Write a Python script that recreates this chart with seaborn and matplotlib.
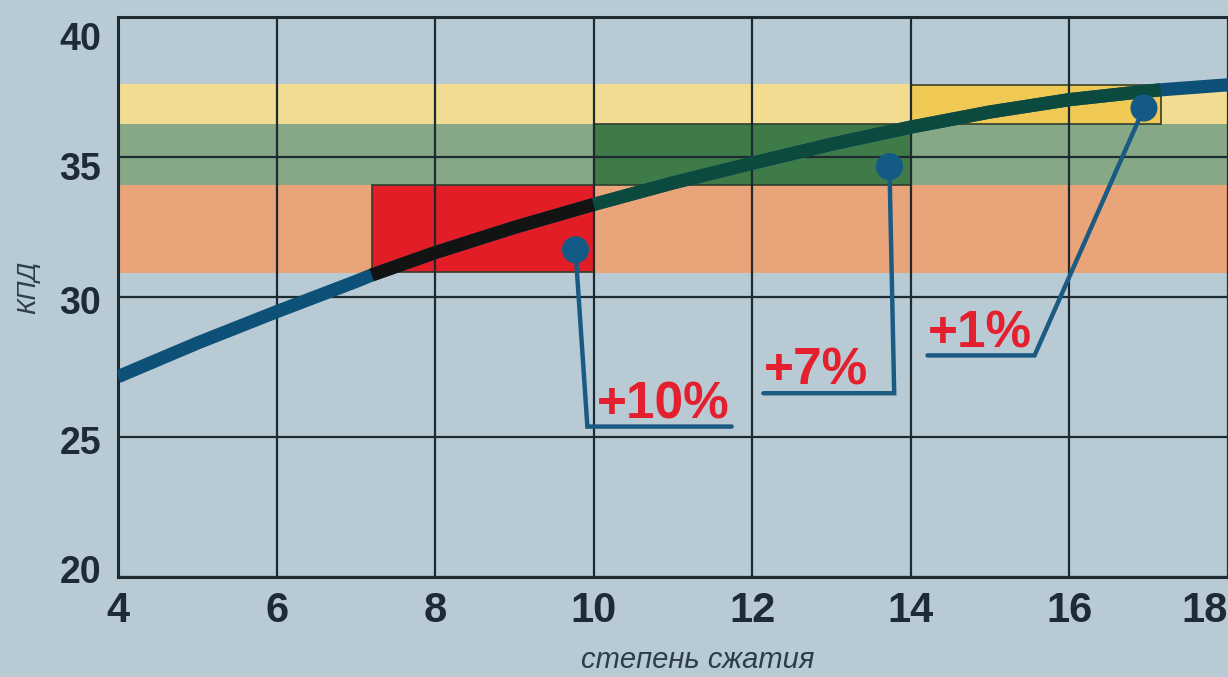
import numpy as np
import pandas as pd
import matplotlib
matplotlib.use('Agg')
import matplotlib.pyplot as plt
import matplotlib.transforms as mtransforms
from matplotlib.patches import Rectangle
import seaborn as sns

# Efficiency (КПД) vs compression ratio
ratio = [4, 5, 6, 7, 7.2, 8, 9, 10, 11, 12, 13, 14, 15, 16, 17, 17.15, 18]
kpd = [27.15, 28.35, 29.47, 30.55, 30.78, 31.58, 32.48, 33.3, 34.07, 34.77,
       35.45, 36.06, 36.6, 37.04, 37.35, 37.39, 37.57]

# horizontal bands across the whole chart
band_low = [30.85, 34.0, 36.17]
band_high = [34.0, 36.17, 37.6]
band_colors = ['#e9a579', '#86a886', '#f2dc92']

# highlighted boxes
box_x0 = [7.2, 10, 14]
box_x1 = [10, 14, 17.15]
box_y0 = [30.9, 34.0, 36.17]
box_y1 = [34.0, 36.17, 37.55]
box_colors = ['#e21d26', '#3e7b49', '#f0c955']
curve_in_box = ['#121414', '#0c4a40', '#0c4a40']

# gain callouts
gain_labels = ['+10%', '+7%', '+1%']
dot_x = [9.77, 13.73, 16.94]
dot_y = [31.68, 34.65, 36.74]
corner_x = [9.92, 13.79, 15.56]
corner_y = [25.37, 26.56, 27.91]
end_x = [11.74, 12.14, 14.21]

x_ticks = [4, 6, 8, 10, 12, 14, 16, 18]
y_ticks = [20, 25, 30, 35, 40]
# the printed y labels sit a little off their grid lines (pixels, up = +)
y_label_shift = [8, -3, -3, -9, -19]

BG = '#b8cbd5'
INK = '#1d2b30'
BLUE = '#0d5078'

sns.set_theme(style='white', rc={'axes.facecolor': BG, 'figure.facecolor': BG})
plt.rcParams['font.family'] = ['Liberation Sans', 'DejaVu Sans']

fig = plt.figure(figsize=(12.28, 6.77), dpi=100)
ax = fig.add_axes([118 / 1228, 0.1477, 1 - 118 / 1228, 0.8276])

# bands and boxes
for lo, hi, c in zip(band_low, band_high, band_colors):
    ax.axhspan(lo, hi, color=c, lw=0, zorder=0.5)
for x0, x1, y0, y1, c in zip(box_x0, box_x1, box_y0, box_y1, box_colors):
    ax.add_patch(Rectangle((x0, y0), x1 - x0, y1 - y0, facecolor=c,
                           edgecolor='#2e3f2e', lw=1.2, zorder=1))

# efficiency curve
curve = pd.DataFrame({'ratio': ratio, 'kpd': kpd})
sns.lineplot(data=curve, x='ratio', y='kpd', color=BLUE, linewidth=9.5,
             solid_capstyle='butt', solid_joinstyle='round', ax=ax, zorder=4)
for x0, x1, c in zip(box_x0, box_x1, curve_in_box):
    seg = curve[(curve['ratio'] >= x0) & (curve['ratio'] <= x1)]
    sns.lineplot(data=seg, x='ratio', y='kpd', color=c, linewidth=9.5,
                 solid_capstyle='butt', solid_joinstyle='round', ax=ax, zorder=5)

ax.set_xlim(4, 18)
ax.set_ylim(20, 40)
ax.set_xticks(x_ticks)
ax.set_yticks(y_ticks)
ax.set_axisbelow(False)
ax.grid(True, color=INK, lw=1.6, zorder=2)
ax.tick_params(length=0)
for side in ['left', 'bottom', 'top']:
    ax.spines[side].set_color(INK)
    ax.spines[side].set_linewidth(2.2)
ax.spines['right'].set_visible(False)

ax.set_xticklabels([str(t) for t in x_ticks], fontsize=30, fontweight='bold',
                   color='#1e2a35')
ax.set_yticklabels([str(t) for t in y_ticks], fontsize=27, fontweight='bold',
                   color='#1e2a35')
ax.tick_params(axis='x', pad=10)
ax.tick_params(axis='y', pad=12)
ax.get_xticklabels()[-1].set_horizontalalignment('right')
for lab, dy in zip(ax.get_yticklabels(), y_label_shift):
    lab.set_transform(lab.get_transform() +
                      mtransforms.ScaledTranslation(0, dy / 100, fig.dpi_scale_trans))
ax.set_xlabel('')
ax.set_ylabel('')

# callouts
for lab, dx, dy, cx, cy, ex in zip(gain_labels, dot_x, dot_y, corner_x, corner_y, end_x):
    ax.plot([dx, cx, ex], [dy, cy, cy], color='#1b5a82', lw=3.2,
            solid_joinstyle='miter', zorder=6)
    left = min(cx, ex) + (0.12 if lab == '+10%' else 0.0)
    ax.text(left, cy + 0.3, lab, fontsize=37, fontweight='bold', color='#e4202e',
            ha='left', va='baseline', zorder=7)
sns.scatterplot(x=dot_x, y=dot_y, s=380, color='#145a86', edgecolor='none',
                ax=ax, zorder=8)

fig.text(0.023, 0.575, 'КПД', rotation=90, fontsize=19, style='italic',
         color='#2e3d4c', ha='center', va='center')
fig.text(0.568, 0.0133, 'степень сжатия', fontsize=21, style='italic',
         color='#2e3d4c', ha='center', va='baseline')

fig.savefig('out.png', dpi=100, facecolor=BG)
